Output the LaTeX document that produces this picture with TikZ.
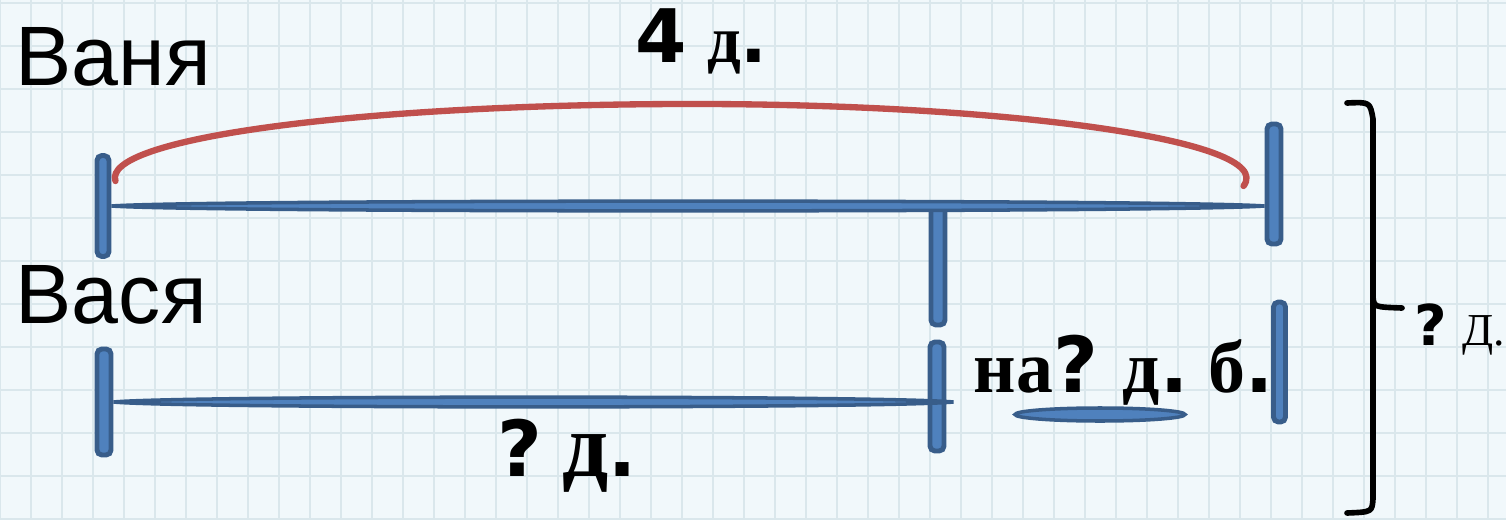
\documentclass[tikz,border=0pt]{standalone}
\usepackage{fontspec}
\setmainfont{Liberation Serif}
\newfontfamily\namefont{Liberation Sans}
\newfontfamily\heavyfont{DejaVu Sans}
\usetikzlibrary{calc}
\definecolor{gridbg}{RGB}{241,248,251}
\definecolor{gridln}{RGB}{218,231,236}
\definecolor{barfill}{RGB}{79,129,189}
\definecolor{barline}{RGB}{56,93,138}
\definecolor{arcred}{RGB}{192,80,77}
\newcommand\hv[2]{{\heavyfont\bfseries\fontsize{#1}{#1}\selectfont #2}}
\newcommand\sr[2]{{\bfseries\fontsize{#1}{#1}\selectfont #2}}
\newcommand\lensbar[2]{%
  \filldraw[barshape] (#1) .. controls ($(#1)!0.08!(#2)+(0,0.065)$) and ($(#1)!0.92!(#2)+(0,0.065)$) .. (#2)
    .. controls ($(#1)!0.92!(#2)-(0,0.065)$) and ($(#1)!0.08!(#2)-(0,0.065)$) .. (#1) -- cycle;}
\tikzset{
  endtick/.style={rectangle,rounded corners=1.4pt,fill=barfill,draw=barline,line width=1.4pt,minimum width=0.14cm,inner sep=0pt},
  barshape/.style={fill=barfill,draw=barline,line width=1pt},
  spanarc/.style={arcred,line width=1.8pt,line cap=round},
  brace/.style={line width=1.6pt,line cap=round,line join=round},
  lbl/.style={inner sep=0pt,anchor=base west}
}
\begin{document}
\begin{tikzpicture}
  \useasboundingbox (0,0) rectangle (15.06,5.19);
  % squared paper
  \fill[gridbg] (0,0) rectangle (15.06,5.19);
  \draw[gridln,line width=0.8pt,xstep=0.31,ystep=0.43] (0,0) grid (15.06,5.19);

  \node[lbl,font={\namefont\fontsize{24}{24}\selectfont}] (vanya) at (0.15,4.34) {Ваня};
  \node[lbl,font={\namefont\fontsize{24}{24}\selectfont}] (vasya) at (0.15,1.96) {Вася};

  % end marks
  \node[endtick,minimum height=1.01cm,minimum width=0.12cm] (t1) at (1.03,3.13) {};
  \node[endtick,minimum height=1.20cm] (t2) at (12.74,3.35) {};
  \node[endtick,minimum height=1.20cm] (t3) at (9.38,2.54) {};
  \node[endtick,minimum height=1.06cm] (t4) at (1.04,1.17) {};
  \node[endtick,minimum height=1.09cm] (t5) at (9.37,1.225) {};
  \node[endtick,minimum height=1.20cm,minimum width=0.12cm] (t6) at (12.795,1.57) {};

  % segments
  \coordinate (e1) at (t2.west |- t1.east);
  \lensbar{t1.east}{e1}
  \coordinate (e2) at ($(t5.east |- t4.east)+(0.07,0)$);
  \lensbar{t4.east}{e2}

  \coordinate (a1) at ($(t1.north east)+(0.04,-0.28)$);
  \coordinate (a2) at ($(t2.west)+(-0.21,-0.02)$);
  \draw[spanarc] (a1) .. controls +(-0.14,0.42) and (3.5,4.14) .. (6.8,4.15) .. controls (10.0,4.16) and ($(a2)+(0.35,0.46)$) .. (a2);

  \node[lbl] (total) at (6.35,4.57) {\hv{21}{4}\hspace{0.2cm}\sr{19}{д}\hv{20}{.}};
  \node[lbl] (diff) at (9.73,1.27) {\sr{21}{на}\hv{22}{?}\hspace{0.25cm}\sr{21}{д}\hv{21}{.}\hspace{0.2cm}\sr{21}{б}\hv{21}{.}};
  \draw[barshape] (11.0,1.045) ellipse (0.85 and 0.065);
  \node[lbl] (short) at (4.97,0.43) {\hv{22}{?}\hspace{0.2cm}\sr{26}{д}\hv{21}{.}};

  % brace for both
  \draw[brace] (13.47,4.16) .. controls (13.70,4.17) .. (13.73,4.00) -- (13.73,2.22) .. controls (13.74,2.12) .. (14.02,2.11);
  \draw[brace] (13.73,2.22) -- (13.73,0.20) .. controls (13.72,0.07) .. (13.47,0.06);
  \node[lbl] (sum) at (14.14,1.74) {\hv{16}{?}\hspace{0.15cm}{\fontsize{13}{13}\selectfont Д.}};
\end{tikzpicture}
\end{document}
